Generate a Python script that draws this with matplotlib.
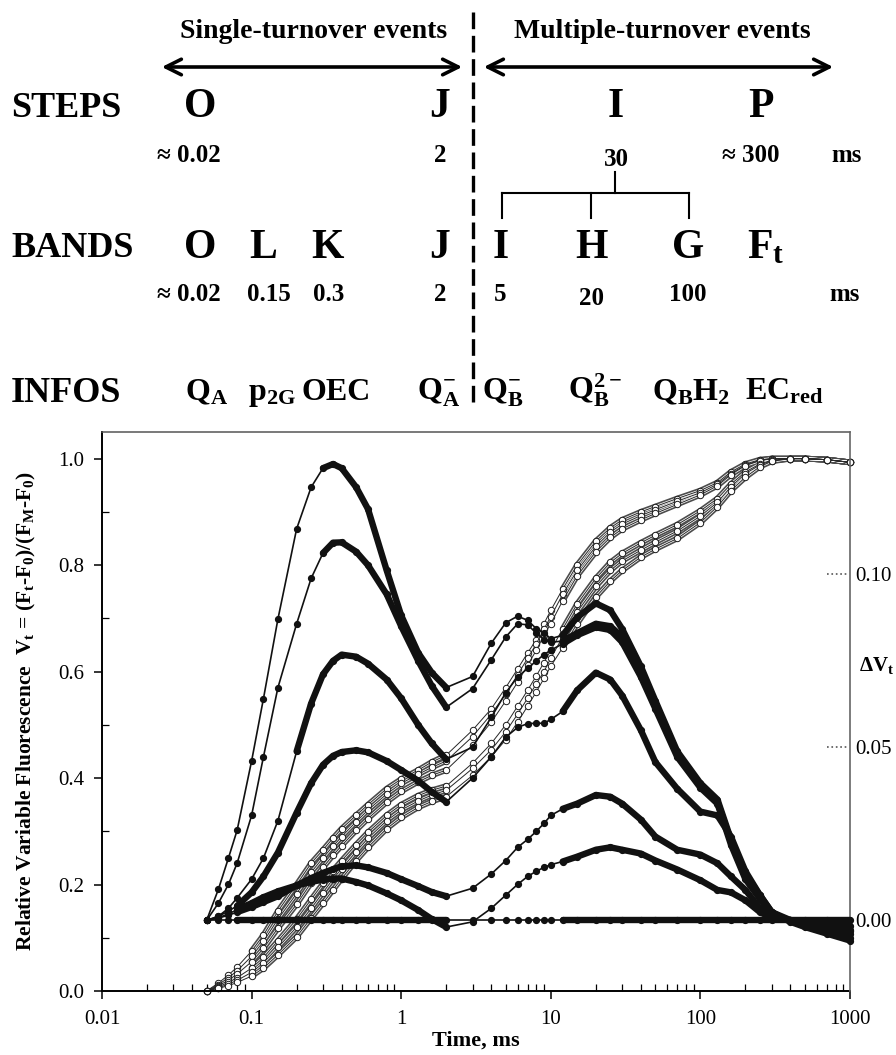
import numpy as np
import matplotlib.pyplot as plt
from matplotlib.lines import Line2D
from matplotlib.patches import FancyArrowPatch

plt.rcParams['font.family'] = ['Liberation Serif', 'DejaVu Serif']
plt.rcParams['mathtext.fontset'] = 'custom'
plt.rcParams['mathtext.rm'] = 'Liberation Serif:bold'
plt.rcParams['mathtext.it'] = 'Liberation Serif:bold'
plt.rcParams['mathtext.bf'] = 'Liberation Serif:bold'

# time points (ms)
t = np.array([0.05, 0.06, 0.07, 0.08, 0.1, 0.12, 0.15, 0.2, 0.25, 0.3, 0.35, 0.4, 0.5, 0.6, 0.8,
              1.0, 1.3, 1.6, 2, 3, 4, 5, 6, 7, 8, 9, 10, 12, 15, 20, 25, 30, 40, 50, 70,
              100, 130, 160, 200, 250, 300, 400, 500, 700, 1000])

# relative variable fluorescence Vt (open circles)
v1 = [0, .015, .03, .045, .075, .105, .15, .20, .24, .265, .287, .305, .33, .35, .38, .398, .415, .43, .443,
      .49, .53, .57, .605, .635, .66, .69, .715,
      .755, .80, .845, .87, .885, .90, .91, .925, .94, .955, .975, .99, .998, 1.0, 1.0, 1.0, .998, .993]
v2 = [0, .012, .025, .038, .065, .093, .135, .183, .223, .25, .272, .29, .318, .34, .37, .39, .407, .42, .432,
      .478, .52, .558, .594, .625, .652, .68, .703,
      .745, .79, .835, .862, .877, .893, .904, .92, .936, .952, .972, .988, .997, 1.0, 1.0, 1.0, .998, .993]
v3 = [0, .01, .02, .032, .055, .08, .118, .163, .203, .232, .255, .273, .302, .324, .355, .375, .393, .405, .415,
      .462, .505, .545, .58, .612, .64, .668, .69,
      .733, .78, .825, .852, .868, .885, .897, .914, .932, .949, .97, .987, .996, 1.0, 1.0, 1.0, .998, .993]
v4 = [0, .008, .016, .025, .043, .063, .094, .135, .172, .202, .226, .245, .275, .298, .33, .35, .367, .377, .385,
      .428, .465, .5, .535, .565, .592, .617, .64,
      .68, .727, .775, .805, .822, .842, .856, .876, .902, .925, .952, .975, .99, .997, 1.0, 1.0, .998, .993]
v5 = [0, .006, .013, .02, .035, .053, .082, .12, .155, .185, .21, .23, .262, .287, .32, .34, .357, .368, .377,
      .418, .453, .487, .52, .55, .577, .6, .625,
      .665, .712, .76, .79, .808, .828, .843, .864, .892, .918, .947, .972, .988, .996, 1.0, 1.0, .998, .993]
v6 = [0, .005, .01, .016, .028, .043, .068, .102, .137, .165, .19, .211, .245, .27, .305, .326, .345, .356, .365,
      .405, .44, .472, .505, .535, .562, .587, .61,
      .645, .69, .74, .77, .79, .815, .83, .85, .88, .91, .94, .965, .985, .995, 1.0, 1.0, .998, .993]

# difference kinetics dVt (filled circles, right axis)
dA = [0, .009, .018, .026, .046, .064, .087, .113, .125, .1305, .1317, .1305, .125, .1187, .101, .088, .0772, .0715, .0672,
      .0704, .080, .0859, .0878, .0866, .0842, .0829, .0813,
      .0823, .0875, .0915, .0895, .0841, .0733, .0634, .0488, .0396, .0349, .0234, .0134, .0073, .0024, -.0004, -.0019, -.0038, -.0058]
dB = [0, .005, .0104, .0165, .0303, .0472, .0672, .0856, .0987, .106, .109, .1091, .1064, .1025, .0941, .0849, .0749, .0677, .0615,
      .0669, .0752, .0818, .0856, .0853, .0829, .081, .0803,
      .0806, .0829, .0856, .0849, .0818, .0718, .0626, .0483, .0391, .0342, .0227, .0127, .0068, .0021, -.0002, -.0015, -.003, -.005]
dC = [0, .0012, .0035, .0065, .0119, .018, .0288, .0488, .0626, .071, .0749, .0767, .0761, .0741, .0695, .0641, .0564, .0511, .0465,
      .05, .0586, .0657, .0703, .0727, .0749, .0767, .078,
      .0798, .0823, .0846, .0838, .0803, .0703, .0611, .0472, .0383, .0337, .0219, .0119, .0062, .0019, 0, -.001, -.0024, -.0039]
dD = [0, .0012, .0027, .0042, .0081, .0127, .0196, .0311, .0396, .0449, .0475, .0486, .0491, .0485, .046, .0434, .0403, .0371, .0342,
      .0411, .0472, .0529, .0557, .0568, .0569, .0569, .058,
      .0603, .0664, .0715, .0695, .0649, .0549, .0457, .038, .0314, .0303, .0242, .0142, .0073, .0024, .0001, -.0007, -.0019, -.0031]
dE = [0, .0007, .0015, .0024, .0039, .0053, .007, .0101, .0122, .0137, .0148, .0156, .0159, .0153, .0137, .0119, .0099, .0082, .007,
      .0093, .0134, .0173, .0211, .0234, .0257, .028, .0303,
      .0322, .0337, .0362, .0357, .0337, .0291, .0242, .0204, .019, .0165, .0127, .0088, .0035, .0008, 0, -.0007, -.0016, -.0027]
dF = [0, .0008, .0019, .0031, .005, .0067, .0084, .0101, .0111, .0118, .0121, .0121, .0111, .0101, .0078, .0058, .003, .0004, -.0019,
      -.0004, .0035, .0073, .0104, .0127, .0142, .0153, .0161,
      .017, .0184, .0204, .0211, .0204, .0193, .0173, .0147, .0116, .0088, .0081, .0058, .0024, .0007, 0, -.0004, -.0008, -.0015]
d_ctrl = np.zeros(len(t))

open_curves = [v1, v2, v3, v4, v5, v6]
filled_curves = [dA, dB, dC, dD, dE, dF, d_ctrl]
dense_from = [0.3, 0.3, 0.2, 0.08, 0.08, 0.08, 0.08]

W, H = 896, 1055
fig = plt.figure(figsize=(W / 100, H / 100), dpi=100)
ax = fig.add_axes([102 / W, 1 - 991 / H, 748 / W, 559 / H])
ax.set_xscale('log')
ax.set_xlim(0.01, 1000)
ax.set_ylim(0, 1.05)

# open-circle Vt curves
for v in open_curves:
    v = np.array(v)
    for m in [(t >= 0.1) & (t <= 2), t >= 12]:
        ax.plot(t[m], v[m], color='0.3', lw=4.2, solid_capstyle='round', zorder=2, clip_on=False)
        ax.plot(t[m], v[m], color='white', lw=1.8, zorder=2.1, clip_on=False)
    ax.plot(t, v, color='0.15', lw=0.7, marker='o', ms=4.6, mfc='white', mec='0.1', mew=0.7,
            zorder=2.2, clip_on=False)

ax.set_xticks([0.01, 0.1, 1, 10, 100, 1000])
ax.set_xticklabels(['0.01', '0.1', '1', '10', '100', '1000'])
ax.set_yticks(np.arange(0, 1.01, 0.2))
ax.set_yticklabels(['0.0', '0.2', '0.4', '0.6', '0.8', '1.0'])
ax.set_yticks(np.arange(0.1, 1.0, 0.2), minor=True)
ax.tick_params(axis='both', which='major', direction='out', length=6, width=1.1, labelsize=15, colors='black')
ax.tick_params(axis='x', which='major', pad=8)
ax.tick_params(axis='y', which='major', pad=7)
ax.tick_params(axis='both', which='minor', direction='in', length=5, width=0.9)
ax.tick_params(axis='x', which='minor', labelbottom=False)
for s in ['left', 'bottom']:
    ax.spines[s].set_linewidth(1.4)
ax.spines['top'].set_color('#555555')
ax.spines['top'].set_linewidth(1.1)
ax.spines['right'].set_visible(False)
ax.set_xlabel('Time, ms', fontsize=16, fontweight='bold', labelpad=1)
ax.set_ylabel('Relative Variable Fluorescence  V$_{\\rm t}$ = (F$_{\\rm t}$-F$_{\\rm 0}$)/(F$_{\\rm M}$-F$_{\\rm 0}$)',
              fontsize=15.5, fontweight='bold', labelpad=14)

# right axis: dVt
ax2 = ax.twinx()
ax2.set_ylim((0 - 0.1325) / 6.51, (1.05 - 0.1325) / 6.51)
for d, d0 in zip(filled_curves, dense_from):
    d = np.array(d)
    for m in [(t >= d0) & (t <= 2), t >= 12]:
        ax2.plot(t[m], d[m], color='#111111', lw=4.6, solid_capstyle='round', zorder=3, clip_on=False)
    ax2.plot(t, d, color='#111111', lw=1.2, marker='o', ms=4.2, mfc='#111111', mec='#111111',
             zorder=3.1, clip_on=False)

ax2.set_yticks([0, 0.05, 0.10])
ax2.set_yticklabels(['0.00', '0.05', '0.10'])
ax2.tick_params(axis='y', direction='in', length=0, pad=4, labelsize=15)
for s in ['left', 'bottom', 'top']:
    ax2.spines[s].set_visible(False)
ax2.spines['right'].set_color('#666666')
ax2.spines['right'].set_linewidth(1.2)
ax2.hlines([0, 0.05, 0.10], 0.969, 0.997, transform=ax2.get_yaxis_transform(),
           colors='#555555', linestyles=':', lw=1.2)
fig.text(859 / W, 1 - 665 / H, 'ΔV$_{\\rm t}$', fontsize=15, fontweight='bold', ha='left', va='center')


# ---- header scheme above the plot ----
def txt(x, y, s, size, ha='center'):
    fig.text(x / W, 1 - y / H, s, fontsize=size, fontweight='bold', ha=ha, va='baseline')


def seg(x0, y0, x1, y1, **kw):
    fig.add_artist(Line2D([x0 / W, x1 / W], [1 - y0 / H, 1 - y1 / H], transform=fig.transFigure,
                          color='black', **kw))


txt(314, 38, 'Single-turnover events', 20)
txt(662, 38, 'Multiple-turnover events', 20)
for x0, x1 in [(159, 465), (481, 836)]:
    fig.add_artist(FancyArrowPatch((x0 / W, 1 - 67 / H), (x1 / W, 1 - 67 / H), transform=fig.transFigure,
                                   arrowstyle='<->', mutation_scale=28, lw=2.6, color='black'))
seg(473, 12, 473, 403, lw=2.4, linestyle=(0, (5, 2)))

step_names = ['O', 'J', 'I', 'P']
step_x = [200, 440, 616, 761]
step_times = ['≈ 0.02', '2', '30', '≈ 300', 'ms']
step_time_x = [189, 440, 616, 751, 847]
band_names = ['O', 'L', 'K', 'J', 'I', 'H', 'G', 'F$_{\\rm t}$']
band_x = [200, 263, 327, 440, 501, 591, 688, 766]
band_times = ['≈ 0.02', '0.15', '0.3', '2', '5', '20', '100', 'ms']
band_time_x = [189, 269, 329, 440, 500, 591, 688, 845]
infos = ['Q$_{\\rm A}$', 'p$_{\\rm 2G}$', 'OEC', 'Q$_{\\rm A}^{-}$', 'Q$_{\\rm B}^{-}$',
         'Q$_{\\rm B}^{2-}$', 'Q$_{\\rm B}$H$_{\\rm 2}$', 'EC$_{\\rm red}$']
info_x = [207, 272, 336, 439, 503, 595, 691, 784]

txt(11, 117, 'STEPS', 26, ha='left')
for s, x in zip(step_names, step_x):
    txt(x, 117, s, 30)
for s, x in zip(step_times, step_time_x):
    txt(x, 166 if s == '30' else 162, s, 18)

seg(615, 172, 615, 193, lw=1.5)
seg(502, 193, 689, 193, lw=1.5)
for x in [502, 591, 689]:
    seg(x, 193, x, 218, lw=1.5)

txt(11, 257, 'BANDS', 26, ha='left')
for s, x in zip(band_names, band_x):
    txt(x, 258, s, 30)
for s, x in zip(band_times, band_time_x):
    txt(x, 305 if s == '20' else 301, s, 18)

txt(11, 402, 'INFOS', 26, ha='left')
for s, x in zip(infos, info_x):
    txt(x, 400, s, 23)

fig.savefig('out.png', dpi=100)
